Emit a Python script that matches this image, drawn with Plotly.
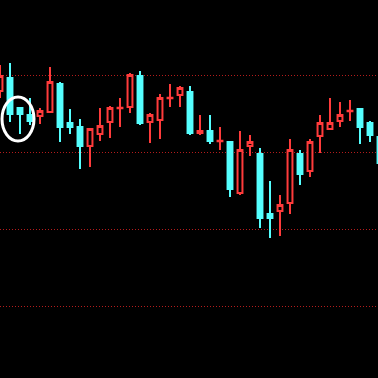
import plotly.graph_objects as go

# Candle index (time order)
idx = list(range(39))

open_ = [27.92, 29.61, 25.71, 24.81, 24.68, 25.19, 28.83, 23.77, 23.25, 20.78,
         22.34, 23.90, 25.68, 25.84, 29.87, 23.90, 24.16, 26.98, 27.40, 27.79,
         22.47, 22.73, 21.40, 21.30, 14.68, 20.78, 19.74, 11.95, 12.34, 13.38,
         19.74, 17.53, 22.08, 22.99, 24.03, 25.29, 25.58, 23.77, 21.95]
high = [31.30, 31.56, 25.71, 27.01, 25.71, 31.04, 29.09, 25.58, 24.29, 22.99,
        25.71, 25.97, 27.01, 30.26, 30.52, 25.06, 27.53, 28.83, 28.57, 28.57,
        24.81, 24.81, 23.25, 21.43, 22.73, 22.21, 20.52, 16.23, 14.42, 21.69,
        20.26, 21.69, 24.81, 27.01, 26.49, 26.75, 25.71, 24.03, 21.95]
low = [27.01, 23.90, 22.34, 23.51, 23.64, 25.19, 21.30, 22.34, 17.79, 18.05,
       21.43, 21.82, 23.25, 25.06, 23.51, 21.17, 21.69, 25.84, 25.84, 22.21,
       22.21, 21.04, 20.26, 14.16, 14.42, 19.48, 10.13, 8.83, 9.09, 11.95,
       15.71, 16.75, 19.87, 22.99, 23.25, 24.03, 21.04, 21.30, 18.57]
close = [29.87, 24.94, 24.94, 24.03, 25.32, 29.09, 23.25, 23.25, 20.78, 22.99,
         23.38, 25.71, 25.74, 30.00, 23.77, 24.81, 27.01, 27.04, 28.31, 22.47,
         22.73, 21.43, 21.46, 15.19, 20.26, 21.30, 11.43, 11.43, 13.12, 20.26,
         17.14, 21.30, 23.77, 23.77, 24.81, 25.35, 23.25, 22.21, 18.57]

grid_levels = [0, 10, 20, 30]

# Highlight ellipse (data coordinates)
circle_x = [0.2, 3.4]
circle_y = [21.43, 27.14]

UP = "#ff3b3b"
DOWN = "#55ffff"

fig = go.Figure()
fig.add_trace(go.Candlestick(
    x=idx, open=open_, high=high, low=low, close=close,
    increasing=dict(line=dict(color=UP, width=2), fillcolor="#000000"),
    decreasing=dict(line=dict(color=DOWN, width=2), fillcolor=DOWN),
    whiskerwidth=0,
    showlegend=False,
    hoverinfo="skip",
))

fig.add_shape(type="circle", xref="x", yref="y",
              x0=circle_x[0], x1=circle_x[1], y0=circle_y[0], y1=circle_y[1],
              line=dict(color="white", width=3))

fig.update_layout(
    width=378, height=378,
    margin=dict(l=0, r=0, t=0, b=0),
    paper_bgcolor="#000000",
    plot_bgcolor="#000000",
    showlegend=False,
    xaxis=dict(range=[0, 37.8], showgrid=False, zeroline=False, showline=False,
               showticklabels=False, rangeslider=dict(visible=False), fixedrange=True),
    yaxis=dict(range=[-9.35, 39.74], tickvals=grid_levels, showgrid=True,
               gridcolor="#b41c1c", griddash="1px,2px", gridwidth=1,
               zeroline=False, showline=False, showticklabels=False, fixedrange=True),
)

fig.write_html("out.html")
